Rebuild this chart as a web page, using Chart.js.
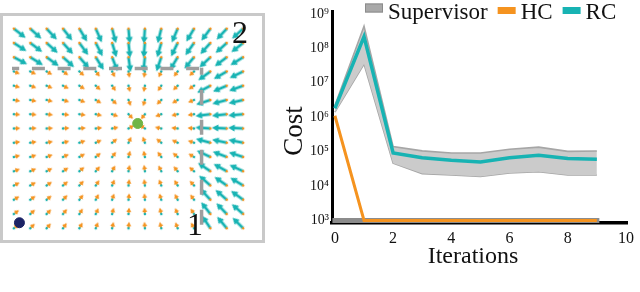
<!DOCTYPE html>
<html><head><meta charset="utf-8">
<script src="https://cdn.jsdelivr.net/npm/chart.js@4"></script>
<style>
html,body{margin:0;padding:0;background:#fff;width:640px;height:292px;overflow:hidden;position:relative;font-family:"Liberation Serif",serif;}
#fieldBox{position:absolute;left:0;top:13px;width:265px;height:230px;border:3px solid #c9c9c9;box-sizing:border-box;}
#fieldCanvas{position:absolute;left:0;top:0;}
#costWrap{position:absolute;left:270px;top:0;width:370px;height:292px;}
.region{position:absolute;font:32px/32px "Liberation Serif",serif;color:#111;}
</style></head><body>
<div id="fieldBox"><canvas id="fieldCanvas" width="259" height="224"></canvas></div>
<div class="region" style="left:232px;top:16px">2</div>
<div class="region" style="left:187px;top:208px">1</div>
<div id="costWrap"><canvas id="costCanvas" width="370" height="292"></canvas></div>
<script>
// ---------- Cost chart data ----------
const iterations = [0,1,2,3,4,5,6,7,8,9];
const xTickValues = [0,2,4,6,8,10];
const yTickExponents = [3,4,5,6,7,8,9];
const rcCost  = [1.8e6, 2.2e8, 9.1e4, 6.6e4, 5.6e4, 5.0e4, 6.6e4, 7.9e4, 6.3e4, 6.0e4];
const rcUpper = [2.2e6, 4.4e8, 1.4e5, 1.05e5, 9.1e4, 9.1e4, 1.17e5, 1.35e5, 1.02e5, 1.04e5];
const rcLower = [1.4e6, 3.5e7, 4.6e4, 2.3e4, 2.1e4, 1.9e4, 2.4e4, 2.6e4, 2.1e4, 2.1e4];
const hcCost  = [1.1e6, 1.0e3, 1.0e3, 1.0e3, 1.0e3, 1.0e3, 1.0e3, 1.0e3, 1.0e3, 1.0e3];
const supervisorCost = [1.0e3, 1.0e3, 1.0e3, 1.0e3, 1.0e3, 1.0e3, 1.0e3, 1.0e3, 1.0e3, 1.0e3];
const legendLabels = ['Supervisor','HC','RC'];

// ---------- Vector field data (arrow direction in degrees, clockwise from +x) ----------
const fieldAngles = [
 [38,42,47,52,59,66,75,85,94,104,113,121,127,133,138],
 [33,37,42,48,54,63,73,84,95,106,116,125,132,138,142],
 [28,32,36,42,49,58,69,82,96,109,121,130,137,143,148],
 [23,26,30,35,42,52,64,80,98,114,127,137,144,150,154],
 [17,20,23,27,33,42,56,77,101,122,136,146,152,157,160],
 [11,13,15,18,22,30,43,69,107,135,149,157,162,165,167],
 [4,5,6,7,9,13,20,46,128,159,167,171,173,174,175],
 [-2,-3,-3,-4,-5,-7,-11,-29,215,192,187,185,184,183,183],
 [-9,-10,-12,-15,-19,-25,-38,-65,250,220,206,199,195,192,191],
 [-15,-18,-21,-25,-30,-39,-53,-75,258,235,220,211,205,201,198],
 [-21,-24,-28,-33,-40,-49,-62,-79,262,244,230,221,214,209,205],
 [-27,-30,-35,-40,-47,-56,-68,-82,263,249,238,228,221,215,211],
 [-32,-36,-40,-46,-53,-62,-72,-83,265,253,243,234,227,221,216],
 [-37,-41,-45,-51,-58,-65,-75,-84,266,256,246,238,232,226,221],
 [-41,-45,-49,-55,-61,-69,-77,-85,266,257,249,242,236,230,225]
];
const regionOneLastCol = 11;
const regionOneFirstRow = 3;
const boundaryRow = 2.79;
const boundaryCol = 11.46;
const goalPoint = [{x:7.56, y:6.65}];
const startPoint = [{x:0.34, y:13.61}];

// ---------- sprites ----------
function arrowSprite(len, shaft, headLen, headW, color){
  let s = Math.ceil(len*2+6); if (s%2) s++;
  const c = document.createElement('canvas'); c.width = c.height = s;
  const g = c.getContext('2d'); const cx = s/2, cy = s/2;
  g.fillStyle = color;
  g.fillRect(cx, cy-shaft/2, len-headLen+0.5, shaft);
  g.beginPath(); g.moveTo(cx+len, cy); g.lineTo(cx+len-headLen, cy-headW/2); g.lineTo(cx+len-headLen, cy+headW/2); g.closePath(); g.fill();
  return c;
}
function dotSprite(r, color){
  const s = 8; const c = document.createElement('canvas'); c.width=c.height=s;
  const g = c.getContext('2d'); g.fillStyle=color; g.beginPath(); g.arc(s/2,s/2,r,0,Math.PI*2); g.fill();
  return c;
}
const TEAL = '#17b3b3', ORANGE = '#f5931f';
const tealArrow = arrowSprite(15, 2.8, 6.5, 7, TEAL);
const orangeArrow = arrowSprite(6.5, 1.6, 4.5, 5, ORANGE);
const tealDot = dotSprite(1.3, TEAL);
const orangeDot = dotSprite(1.3, ORANGE);

const bigTeal=[], bigTealRot=[], bigOrange=[], bigOrangeRot=[], smallTeal=[], smallTealRot=[], smallOrange=[], smallOrangeRot=[];
fieldAngles.forEach((row,j)=>row.forEach((a,i)=>{
  const p = {x:i, y:j};
  if (i <= regionOneLastCol && j >= regionOneFirstRow) { bigOrange.push(p); bigOrangeRot.push(a); smallTeal.push(p); smallTealRot.push(a); }
  else { bigTeal.push(p); bigTealRot.push(a); smallOrange.push(p); smallOrangeRot.push(a); }
}));

new Chart(document.getElementById('fieldCanvas'), {
  type:'scatter',
  data:{datasets:[
    {data:goalPoint, pointStyle:'circle', pointRadius:5, backgroundColor:'#6fb546', borderColor:'#6fb546', order:-2},
    {data:startPoint, pointStyle:'circle', pointRadius:5, backgroundColor:'#1c2466', borderColor:'#1c2466', order:-2},
    {type:'line', data:[{x:-0.12,y:boundaryRow},{x:11.6,y:boundaryRow}], showLine:true, pointRadius:0, borderColor:'#9e9e9e', borderWidth:3.5, borderDash:[13,12.7], borderDashOffset:5.7, order:-1},
    {type:'line', data:[{x:boundaryCol,y:boundaryRow-0.05},{x:boundaryCol,y:14.3}], showLine:true, pointRadius:0, borderColor:'#9e9e9e', borderWidth:3.5, borderDash:[15,15], borderDashOffset:8, order:-1},
    {data:smallTeal, pointStyle:tealDot, pointRotation:smallTealRot, pointRadius:4, order:0},
    {data:smallOrange, pointStyle:orangeDot, pointRotation:smallOrangeRot, pointRadius:4, order:0},
    {data:bigTeal, pointStyle:tealArrow, pointRotation:bigTealRot, pointRadius:8, order:1},
    {data:bigOrange, pointStyle:orangeArrow, pointRotation:bigOrangeRot, pointRadius:6, order:1}
  ]},
  options:{
    responsive:false, animation:false, events:[],
    layout:{padding:0},
    plugins:{legend:{display:false}, tooltip:{enabled:false}},
    scales:{
      x:{type:'linear', min:-0.114, max:14.6, display:false},
      y:{type:'linear', min:-0.258, max:14.19, reverse:true, display:false}
    }
  }
});

// ---------- cost chart ----------
const SERIF = '"Liberation Serif", serif';
const supDigits = {3:'³',4:'⁴',5:'⁵',6:'⁶',7:'⁷',8:'⁸',9:'⁹'};
const pts = arr => iterations.map((x,k)=>({x, y:arr[k]}));

const legendPlugin = {
  id:'costLegend',
  afterDraw(chart){
    const ctx = chart.ctx; ctx.save();
    ctx.font = '23px ' + SERIF;
    ctx.textBaseline = 'alphabetic';
    let x = 95;
    legendLabels.forEach(label=>{
      const ds = chart.data.datasets.find(d=>d.label===label);
      const pt = ds.legendPatch;
      ctx.fillStyle = pt.fill; ctx.fillRect(x, pt.top, 18, pt.h);
      if (pt.stroke){ ctx.strokeStyle = pt.stroke; ctx.lineWidth = 1; ctx.strokeRect(x+0.5, pt.top+0.5, 17, pt.h-1); }
      x += 18 + 5;
      ctx.fillStyle = '#111'; ctx.fillText(label, x, 18.5);
      x += ctx.measureText(label).width + 10;
    });
    ctx.restore();
  }
};
const titlePlugin = {
  id:'axisTitles',
  afterDraw(chart){
    const ctx = chart.ctx; ctx.save(); ctx.fillStyle = '#111';
    ctx.textAlign = 'center'; ctx.textBaseline = 'middle';
    ctx.font = '24px ' + SERIF;
    ctx.fillText('Iterations', 203, 257);
    ctx.translate(25, 131); ctx.rotate(-Math.PI/2);
    ctx.font = '27px ' + SERIF;
    ctx.fillText('Cost', 0, 0);
    ctx.restore();
  }
};

new Chart(document.getElementById('costCanvas'), {
  type:'line',
  data:{datasets:[
    {label:'RC', data:pts(rcCost), borderColor:TEAL, backgroundColor:TEAL, borderWidth:3.5, pointRadius:0, order:0, legendPatch:{fill:TEAL, top:7, h:7}},
    {label:'HC', data:pts(hcCost), borderColor:ORANGE, backgroundColor:ORANGE, borderWidth:3, pointRadius:0, order:1, legendPatch:{fill:ORANGE, top:7, h:7}},
    {label:'Supervisor', data:pts(supervisorCost), borderColor:'#8c8c8c', backgroundColor:'#a9a9a9', borderWidth:5, borderCapStyle:'square', pointRadius:0, order:2, legendPatch:{fill:'#a9a9a9', stroke:'#8c8c8c', top:3.5, h:9}},
    {label:'RC upper', data:pts(rcUpper), borderColor:'#a6a6a6', backgroundColor:'#cbcbcb', borderWidth:1.6, pointRadius:0, fill:'+1', order:3},
    {label:'RC lower', data:pts(rcLower), borderColor:'#a6a6a6', borderWidth:1.6, pointRadius:0, fill:false, order:4}
  ]},
  options:{
    responsive:false, animation:false, events:[],
    layout:{padding:{top:10, right:3, left:0, bottom:0}},
    plugins:{legend:{display:false}, tooltip:{enabled:false}},
    scales:{
      x:{type:'linear', min:-0.1, max:10.067,
         afterBuildTicks:s=>{s.ticks = xTickValues.map(v=>({value:v}));},
         afterFit:s=>{s.height = 69;},
         grid:{display:false, drawTicks:false},
         border:{display:true, color:'#000', width:3.5},
         ticks:{padding:6, color:'#111', font:{family:SERIF, size:16}, maxRotation:0, autoSkip:false}},
      y:{type:'logarithmic', min:847, max:1.18e9,
         afterBuildTicks:s=>{s.ticks = yTickExponents.map(e=>({value:Math.pow(10,e)}));},
         afterFit:s=>{s.width = 62;},
         grid:{display:false, drawTicks:false},
         border:{display:true, color:'#000', width:3},
         ticks:{padding:3, color:'#111', font:{family:SERIF, size:14}, autoSkip:false,
                callback:v=>'10'+supDigits[Math.round(Math.log10(v))]}}
    }
  },
  plugins:[legendPlugin, titlePlugin]
});
</script>
</body></html>
